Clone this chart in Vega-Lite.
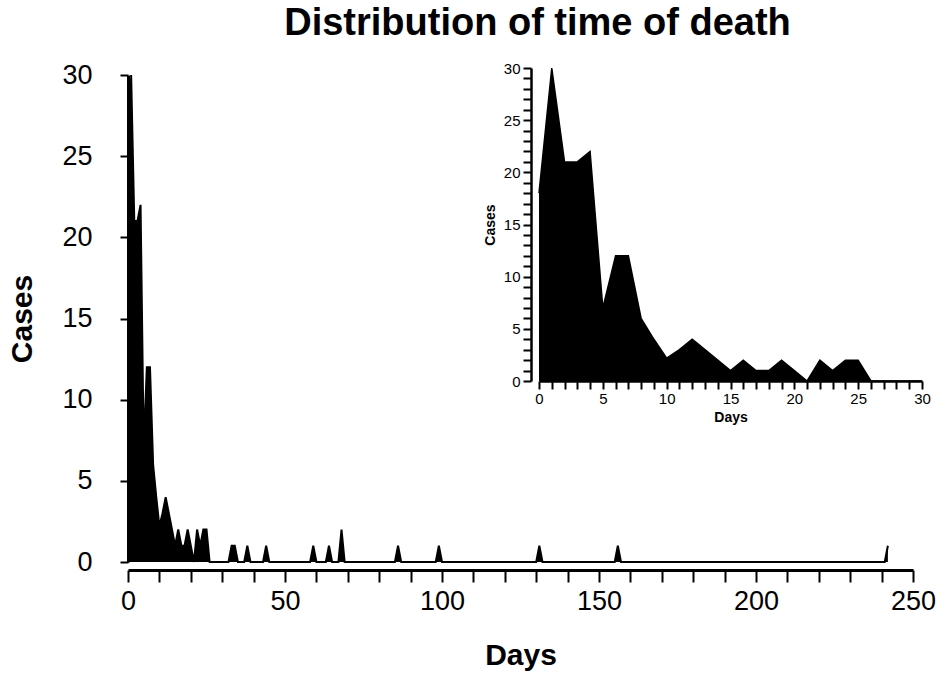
{
  "$schema": "https://vega.github.io/schema/vega-lite/v6.json",
  "autosize": "none",
  "width": 785,
  "height": 487,
  "padding": {"left": 128, "top": 75, "right": 32, "bottom": 120},
  "background": "white",
  "view": {"stroke": null},
  "title": {"text": "Distribution of time of death", "font": "Liberation Sans", "fontSize": 38, "fontWeight": "bold", "color": "black", "offset": 18, "dx": 17},
  "config": {"font": "Liberation Sans"},
  "datasets": {
    "inset": [
      {"day": 0, "cases": 18}, {"day": 1, "cases": 30}, {"day": 2, "cases": 21}, {"day": 3, "cases": 21},
      {"day": 4, "cases": 22}, {"day": 5, "cases": 7}, {"day": 6, "cases": 12}, {"day": 7, "cases": 12},
      {"day": 8, "cases": 6}, {"day": 9, "cases": 4}, {"day": 10, "cases": 2.2}, {"day": 11, "cases": 3},
      {"day": 12, "cases": 4}, {"day": 13, "cases": 3}, {"day": 14, "cases": 2}, {"day": 15, "cases": 1},
      {"day": 16, "cases": 2}, {"day": 17, "cases": 1}, {"day": 18, "cases": 1}, {"day": 19, "cases": 2},
      {"day": 20, "cases": 1}, {"day": 21, "cases": 0}, {"day": 22, "cases": 2}, {"day": 23, "cases": 1},
      {"day": 24, "cases": 2}, {"day": 25, "cases": 2}, {"day": 26, "cases": 0}, {"day": 27, "cases": 0},
      {"day": 28, "cases": 0}, {"day": 29, "cases": 0}, {"day": 30, "cases": 0}
    ],
    "main": [
      {"day": 0, "cases": 18}, {"day": 1, "cases": 30}, {"day": 2, "cases": 21}, {"day": 3, "cases": 21},
      {"day": 4, "cases": 22}, {"day": 5, "cases": 7}, {"day": 6, "cases": 12}, {"day": 7, "cases": 12},
      {"day": 8, "cases": 6}, {"day": 9, "cases": 4}, {"day": 10, "cases": 2.2}, {"day": 11, "cases": 3},
      {"day": 12, "cases": 4}, {"day": 13, "cases": 3}, {"day": 14, "cases": 2}, {"day": 15, "cases": 1},
      {"day": 16, "cases": 2}, {"day": 17, "cases": 1}, {"day": 18, "cases": 1}, {"day": 19, "cases": 2},
      {"day": 20, "cases": 1}, {"day": 21, "cases": 0}, {"day": 22, "cases": 2}, {"day": 23, "cases": 1},
      {"day": 24, "cases": 2}, {"day": 25, "cases": 2}, {"day": 26, "cases": 0},
      {"day": 32, "cases": 0}, {"day": 33, "cases": 1}, {"day": 34, "cases": 1}, {"day": 35, "cases": 0},
      {"day": 37, "cases": 0}, {"day": 38, "cases": 1}, {"day": 39, "cases": 0},
      {"day": 43, "cases": 0}, {"day": 44, "cases": 1}, {"day": 45, "cases": 0},
      {"day": 58, "cases": 0}, {"day": 59, "cases": 1}, {"day": 60, "cases": 0},
      {"day": 63, "cases": 0}, {"day": 64, "cases": 1}, {"day": 65, "cases": 0},
      {"day": 67, "cases": 0}, {"day": 68, "cases": 2}, {"day": 69, "cases": 0},
      {"day": 85, "cases": 0}, {"day": 86, "cases": 1}, {"day": 87, "cases": 0},
      {"day": 98, "cases": 0}, {"day": 99, "cases": 1}, {"day": 100, "cases": 0},
      {"day": 130, "cases": 0}, {"day": 131, "cases": 1}, {"day": 132, "cases": 0},
      {"day": 155, "cases": 0}, {"day": 156, "cases": 1}, {"day": 157, "cases": 0},
      {"day": 241, "cases": 0}, {"day": 242, "cases": 1}
    ]
  },
  "layer": [
    {
      "data": {"name": "main"},
      "mark": {"type": "area", "color": "black", "opacity": 1, "fillOpacity": 1, "line": {"color": "black", "strokeWidth": 2}},
      "encoding": {
        "x": {"field": "day", "type": "quantitative", "title": "Days",
          "scale": {"domain": [0, 250], "nice": false},
          "axis": {"orient": "bottom", "values": [0,10,20,30,40,50,60,70,80,90,100,110,120,130,140,150,160,170,180,190,200,210,220,230,240,250],
            "labelExpr": "datum.value % 50 == 0 ? datum.label : ''", "labelFlush": false,
            "offset": 8, "grid": false, "domainColor": "black", "domainWidth": 3, "tickColor": "black", "tickWidth": 2, "tickSize": 12,
            "labelFontSize": 27, "labelColor": "black", "labelPadding": 6, "titleFontSize": 30, "titleFontWeight": "bold", "titleColor": "black", "titlePadding": 26}},
        "y": {"field": "cases", "type": "quantitative", "title": "Cases",
          "scale": {"domain": [0, 30], "nice": false},
          "axis": {"orient": "left", "values": [0,5,10,15,20,25,30], "grid": false, "domainColor": "black", "domainWidth": 3, "labelFlush": false,
            "tickColor": "black", "tickWidth": 2, "tickSize": 8, "labelFontSize": 27, "labelColor": "black", "labelPadding": 28,
            "titleFontSize": 30, "titleFontWeight": "bold", "titleColor": "black", "titlePadding": 24}}
      }
    },
    {
      "data": {"name": "inset"},
      "mark": {"type": "area", "color": "black", "opacity": 1, "fillOpacity": 1, "line": {"color": "black", "strokeWidth": 1.5}},
      "encoding": {
        "x": {"field": "day", "type": "quantitative", "title": "Days",
          "scale": {"domain": [0, 30], "nice": false, "range": [411, 794]},
          "axis": {"orient": "bottom", "offset": -181, "values": [0,1,2,3,4,5,6,7,8,9,10,11,12,13,14,15,16,17,18,19,20,21,22,23,24,25,26,27,28,29,30],
            "labelExpr": "datum.value % 5 == 0 ? datum.label : ''", "labelFlush": false,
            "grid": false, "domainColor": "black", "domainWidth": 2.5, "tickColor": "black", "tickWidth": 2, "tickSize": 8,
            "labelFontSize": 15, "labelColor": "black", "labelPadding": 2, "titleFontSize": 14, "titleFontWeight": "bold", "titleColor": "black", "titlePadding": 4}},
        "y": {"field": "cases", "type": "quantitative", "title": "Cases",
          "scale": {"domain": [0, 30], "nice": false, "range": [306, -7]},
          "axis": {"orient": "left", "offset": -403, "values": [0,1,2,3,4,5,6,7,8,9,10,11,12,13,14,15,16,17,18,19,20,21,22,23,24,25,26,27,28,29,30],
            "labelExpr": "datum.value % 5 == 0 ? datum.label : ''", "labelFlush": false,
            "grid": false, "domainColor": "black", "domainWidth": 2.5, "tickColor": "black", "tickWidth": 2, "tickSize": 8,
            "labelFontSize": 15, "labelColor": "black", "labelPadding": 3, "titleFontSize": 14, "titleFontWeight": "bold", "titleColor": "black", "titlePadding": 6}}
      }
    }
  ],
  "resolve": {"scale": {"x": "independent", "y": "independent"}, "axis": {"x": "independent", "y": "independent"}}
}
